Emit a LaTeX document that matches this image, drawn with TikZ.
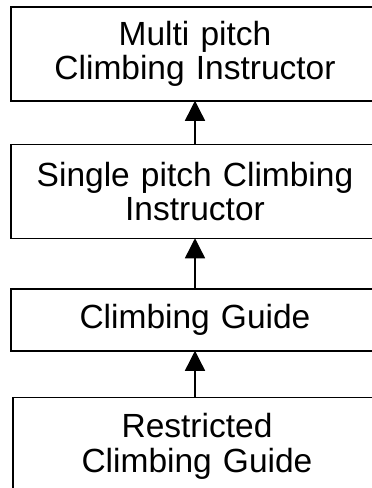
\documentclass[tikz,border=0pt]{standalone}
\usepackage{fontspec}
\setmainfont{Liberation Sans}
\usetikzlibrary{arrows.meta,positioning}

\begin{document}
\begin{tikzpicture}[>={Triangle[width=20pt,length=20pt]},font=\fontsize{33.5}{34.5}\selectfont]
    
    % Define node styles
    \tikzstyle{level} = [draw, line width=1.5pt, rectangle, minimum width=368pt, minimum height=94pt, text width=350pt, align=center, inner sep=0pt]
    \tikzstyle{step up} = [->, line width=1.4pt, shorten >=-1pt]
    
    \useasboundingbox (0,0) rectangle (372pt,-488pt);
    
    % Draw nodes
    \node [level] (multi) at (195pt,-54pt) {Multi pitch\\Climbing Instructor};
    \node [level, below=42pt of multi] (single) {Single pitch Climbing\\Instructor};
    \node [level, minimum height=62pt, below=49pt of single] (guide) {Climbing Guide};
    \node [level, minimum height=98pt, below=45pt of guide, xshift=2pt] (restricted) {Restricted\\Climbing Guide};
    
    % Draw arrows
    \draw [step up] (single.north) -- (multi.south);
    \draw [step up] (guide.north) -- (single.south);
    \draw [step up] (restricted.north -| guide.north) -- (guide.south);
    
\end{tikzpicture}
\end{document}
